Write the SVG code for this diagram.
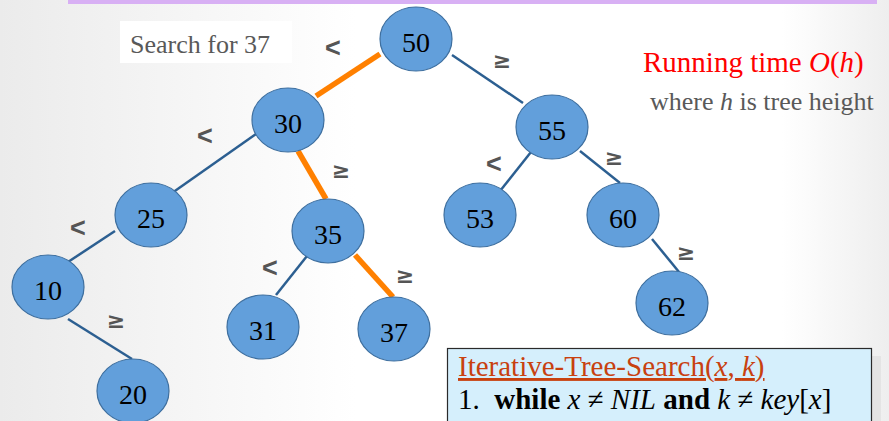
<svg xmlns="http://www.w3.org/2000/svg" width="889" height="421" viewBox="0 0 889 421">
<defs>
<linearGradient id="bg" x1="0" y1="0" x2="1" y2="0">
<stop offset="0" stop-color="#ebebeb"/>
<stop offset="0.4" stop-color="#ffffff"/>
<stop offset="0.88" stop-color="#ffffff"/>
<stop offset="1" stop-color="#eeeeee"/>
</linearGradient>
<style>
.node ellipse{fill:#629fdb;stroke:#3e6f9f;stroke-width:1.2}
.node text{font-family:"Liberation Serif",serif;font-size:28px;fill:#000;text-anchor:middle}
.edge{stroke:#2c5f91;stroke-width:2.5;fill:none}
.hot{stroke:#ff8000;stroke-width:5.5;fill:none}
.lbl{font-family:"Liberation Sans",Arial,sans-serif;font-weight:bold;font-size:27px;fill:#555;text-anchor:middle;dominant-baseline:central}
.ge{font-family:"DejaVu Sans",sans-serif;font-size:22px}
.serif{font-family:"Liberation Serif",serif}
</style>
</defs>
<rect x="0" y="0" width="889" height="421" fill="url(#bg)"/>
<rect x="68" y="0" width="809" height="4" fill="#d8b0f4"/>
<rect id="searchbox" x="120" y="21" width="172" height="42" fill="#ffffff"/>
<text class="serif" x="130" y="53" font-size="26" fill="#595959">Search for 37</text>

<g id="connectors">
<line class="hot" x1="380" y1="54" x2="316" y2="96"/>
<line class="edge" x1="452" y1="55" x2="523" y2="103"/>
<line class="edge" x1="256" y1="134" x2="172" y2="193"/>
<line class="hot" x1="298" y1="151" x2="326" y2="199"/>
<line class="edge" x1="115" y1="231" x2="68" y2="262"/>
<line class="edge" x1="68" y1="319" x2="132" y2="359"/>
<line class="edge" x1="307" y1="256" x2="276" y2="295"/>
<line class="hot" x1="355" y1="255" x2="393" y2="297"/>
<line class="edge" x1="531" y1="152" x2="500" y2="191"/>
<line class="edge" x1="580" y1="151" x2="620" y2="183"/>
<line class="edge" x1="652" y1="239" x2="679" y2="272"/>
<text class="lbl" x="333" y="48">&lt;</text>
<text class="lbl ge" x="502" y="60">≥</text>
<text class="lbl" x="205" y="136">&lt;</text>
<text class="lbl ge" x="341" y="170">≥</text>
<text class="lbl" x="78" y="228">&lt;</text>
<text class="lbl ge" x="116" y="320">≥</text>
<text class="lbl" x="270" y="268">&lt;</text>
<text class="lbl ge" x="405" y="275">≥</text>
<text class="lbl" x="494" y="164" font-weight="normal" fill="#666">&lt;</text>
<text class="lbl ge" x="614" y="157">≥</text>
<text class="lbl ge" x="686" y="252">≥</text>
</g>

<g id="n50" class="node"><ellipse cx="416" cy="39" rx="36" ry="32"/><text x="416" y="52">50</text></g>
<g id="n30" class="node"><ellipse cx="288" cy="120" rx="36" ry="32"/><text x="288" y="133">30</text></g>
<g id="n55" class="node"><ellipse cx="552" cy="127" rx="36" ry="32"/><text x="552" y="140">55</text></g>
<g id="n25" class="node"><ellipse cx="151" cy="215" rx="36" ry="32"/><text x="151" y="228">25</text></g>
<g id="n35" class="node"><ellipse cx="328" cy="231" rx="36" ry="32"/><text x="328" y="244">35</text></g>
<g id="n53" class="node"><ellipse cx="480" cy="215" rx="36" ry="32"/><text x="480" y="228">53</text></g>
<g id="n60" class="node"><ellipse cx="623" cy="215" rx="36" ry="32"/><text x="623" y="228">60</text></g>
<g id="n10" class="node"><ellipse cx="48" cy="287" rx="36" ry="32"/><text x="48" y="300">10</text></g>
<g id="n31" class="node"><ellipse cx="263" cy="327" rx="36" ry="32"/><text x="263" y="340">31</text></g>
<g id="n37" class="node"><ellipse cx="394" cy="329" rx="36" ry="32"/><text x="394" y="342">37</text></g>
<g id="n62" class="node"><ellipse cx="672" cy="303" rx="36" ry="32"/><text x="672" y="316">62</text></g>
<g id="n20" class="node"><ellipse cx="133" cy="391" rx="36" ry="32"/><text x="133" y="404">20</text></g>

<g id="runtime">
<text class="serif" x="643" y="72" font-size="29" fill="#ff0000">Running time <tspan font-style="italic">O</tspan>(<tspan font-style="italic">h</tspan>)</text>
<text class="serif" x="650" y="110" font-size="26" fill="#595959">where <tspan font-style="italic">h</tspan> is tree height</text>
</g>

<g id="codebox">
<rect x="872" y="356" width="9" height="70" fill="#e4e4e4"/>
<rect x="447.5" y="348.5" width="424" height="80" fill="#d5effc" stroke="#2a2a2a" stroke-width="1.2"/>
<text class="serif" x="458" y="376" font-size="29" fill="#c8410f" text-decoration="underline">Iterative-Tree-Search(<tspan font-style="italic">x</tspan>, <tspan font-style="italic">k</tspan>)</text>
<text class="serif" x="458" y="409" font-size="29" fill="#000" xml:space="preserve">1.  <tspan font-weight="bold">while</tspan> <tspan font-style="italic">x</tspan> ≠ <tspan font-style="italic">NIL</tspan> <tspan font-weight="bold">and</tspan> <tspan font-style="italic">k</tspan> ≠ <tspan font-style="italic">key</tspan>[<tspan font-style="italic">x</tspan>]</text>
</g>
</svg>
